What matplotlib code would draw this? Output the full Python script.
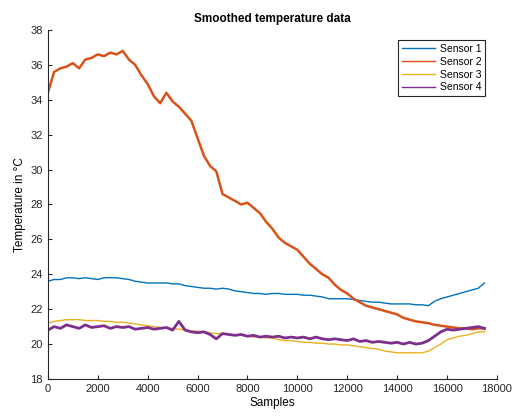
import numpy as np
import matplotlib.pyplot as plt

plt.rcParams['font.family'] = ['Liberation Sans', 'DejaVu Sans']

samples = np.arange(0, 17501, 250)

sensor1 = [23.6, 23.7, 23.7, 23.8, 23.8, 23.75, 23.8, 23.75, 23.7, 23.8,
           23.8, 23.8, 23.75, 23.7, 23.6, 23.55, 23.5, 23.5, 23.5, 23.5,
           23.45, 23.45, 23.35, 23.3, 23.25, 23.2, 23.2, 23.15, 23.2, 23.15,
           23.05, 23.0, 22.95, 22.9, 22.9, 22.85, 22.9, 22.9, 22.85, 22.85,
           22.85, 22.8, 22.8, 22.75, 22.7, 22.6, 22.6, 22.6, 22.6, 22.55,
           22.5, 22.45, 22.4, 22.4, 22.35, 22.3, 22.3, 22.3, 22.3, 22.25,
           22.25, 22.2, 22.45, 22.6, 22.7, 22.8, 22.9, 23.0, 23.1, 23.2,
           23.5]

sensor2 = [34.4, 35.6, 35.8, 35.9, 36.1, 35.8, 36.3, 36.4, 36.6, 36.5,
           36.7, 36.6, 36.8, 36.3, 36.0, 35.4, 34.9, 34.2, 33.8, 34.4,
           33.9, 33.6, 33.2, 32.8, 31.8, 30.8, 30.2, 29.9, 28.6, 28.4,
           28.2, 28.0, 28.1, 27.8, 27.5, 27.0, 26.6, 26.1, 25.8, 25.6,
           25.4, 25.0, 24.6, 24.3, 24.0, 23.8, 23.4, 23.1, 22.9, 22.6,
           22.4, 22.2, 22.1, 22.0, 21.9, 21.8, 21.7, 21.5, 21.4, 21.3,
           21.25, 21.2, 21.1, 21.05, 21.0, 20.95, 20.9, 20.9, 20.85, 20.9,
           20.9]

sensor3 = [21.2, 21.3, 21.35, 21.4, 21.4, 21.4, 21.35, 21.35, 21.35, 21.3,
           21.3, 21.25, 21.25, 21.2, 21.15, 21.1, 21.05, 21.0, 20.95, 20.9,
           20.9, 20.85, 20.8, 20.75, 20.75, 20.7, 20.65, 20.6, 20.6, 20.55,
           20.5, 20.5, 20.45, 20.4, 20.4, 20.35, 20.35, 20.25, 20.2, 20.2,
           20.15, 20.1, 20.1, 20.05, 20.05, 20.0, 20.0, 19.95, 19.95, 19.9,
           19.85, 19.8, 19.75, 19.7, 19.6, 19.55, 19.5, 19.5, 19.5, 19.5,
           19.5, 19.6, 19.8, 20.0, 20.25, 20.35, 20.45, 20.5, 20.6, 20.7,
           20.7]

sensor4 = [20.8, 21.0, 20.9, 21.1, 21.0, 20.9, 21.1, 20.95, 21.0, 21.05,
           20.9, 21.0, 20.95, 21.0, 20.85, 20.9, 20.95, 20.85, 20.9, 20.95,
           20.8, 21.3, 20.8, 20.7, 20.65, 20.7, 20.55, 20.3, 20.6, 20.55,
           20.5, 20.55, 20.45, 20.5, 20.4, 20.45, 20.4, 20.45, 20.35, 20.4,
           20.35, 20.4, 20.3, 20.4, 20.3, 20.25, 20.3, 20.25, 20.2, 20.3,
           20.15, 20.2, 20.1, 20.15, 20.1, 20.05, 20.1, 20.0, 20.1, 20.0,
           20.05, 20.2, 20.45, 20.7, 20.85, 20.8, 20.85, 20.9, 20.95, 21.0,
           20.9]

labels = ['Sensor 1', 'Sensor 2', 'Sensor 3', 'Sensor 4']
colors = ['#0072BD', '#D95319', '#EDB120', '#7E2F8E']
widths = [1.0, 1.8, 1.0, 2.0]

fig = plt.figure(figsize=(5.15, 4.16), dpi=100)
ax = fig.add_axes([0.093, 0.089, 0.872, 0.839])

for data, lab, col, lw in zip([sensor1, sensor2, sensor3, sensor4], labels, colors, widths):
    ax.plot(samples, data, color=col, lw=lw, label=lab)

ax.set_xlim(0, 18000)
ax.set_ylim(18, 38)
ax.set_xticks(np.arange(0, 18001, 2000))
ax.set_yticks(np.arange(18, 39, 2))
ax.tick_params(direction='in', labelsize=8, colors='#262626', length=3)
for side in ['top', 'right']:
    ax.spines[side].set_visible(False)
for side in ['left', 'bottom']:
    ax.spines[side].set_color('#262626')
    ax.spines[side].set_linewidth(0.8)

ax.set_xlabel('Samples', fontsize=8.5, labelpad=2)
ax.set_ylabel('Temperature in °C', fontsize=8.5, labelpad=3)
ax.set_title('Smoothed temperature data', fontsize=8.5, fontweight='bold', pad=6)

leg = ax.legend(loc='upper right', bbox_to_anchor=(0.973, 0.971), fontsize=7.5,
                fancybox=False, framealpha=1, edgecolor='#262626',
                handlelength=3.2, handletextpad=0.4, labelspacing=0.28,
                borderpad=0.35, borderaxespad=0)
leg.get_frame().set_linewidth(0.8)
for h in leg.get_lines():
    h.set_linewidth(1.0)

plt.savefig('out.png', dpi=100)
